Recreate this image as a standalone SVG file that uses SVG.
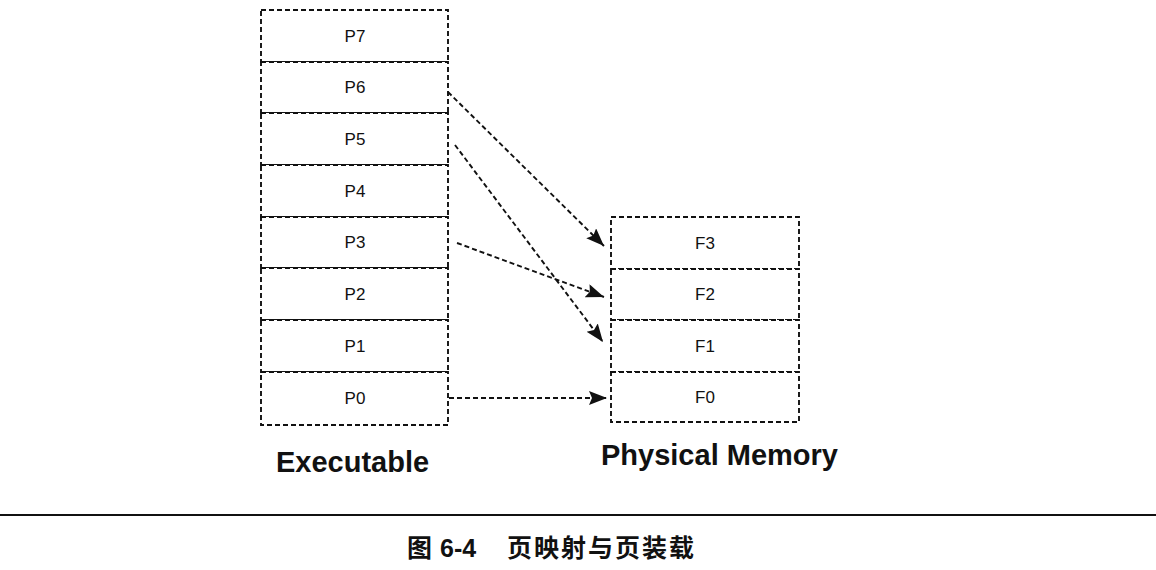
<svg xmlns="http://www.w3.org/2000/svg" width="1156" height="570" viewBox="0 0 1156 570">
<style>
.cell{fill:#fff;stroke:#111;stroke-width:1.9;stroke-dasharray:5 3}
.lbl{font-family:"Liberation Sans",Arial,sans-serif;font-size:17px;fill:#111;text-anchor:middle}
.title{font-family:"Liberation Sans",Arial,sans-serif;font-size:29px;font-weight:bold;fill:#111}
.conn{fill:none;stroke:#111;stroke-width:1.9;stroke-dasharray:5 3}
.cap{font-family:"Liberation Sans","Noto Sans CJK SC",sans-serif;font-size:25px;font-weight:bold;fill:#111}
</style>
<defs>
<marker id="arr" markerUnits="userSpaceOnUse" markerWidth="20" markerHeight="16" refX="18" refY="7" orient="auto">
<path d="M0,0 L18,7 L0,14 L3,7 z" fill="#111"/>
</marker>
</defs>
<rect width="1156" height="570" fill="#fff"/>
<g id="exec">
<g id="P7"><rect class="cell" x="261" y="10" width="187" height="52"/><text class="lbl" x="355" y="42">P7</text></g>
<g id="P6"><rect class="cell" x="261" y="62" width="187" height="51"/><text class="lbl" x="355" y="93">P6</text></g>
<g id="P5"><rect class="cell" x="261" y="113" width="187" height="52"/><text class="lbl" x="355" y="145">P5</text></g>
<g id="P4"><rect class="cell" x="261" y="165" width="187" height="52"/><text class="lbl" x="355" y="197">P4</text></g>
<g id="P3"><rect class="cell" x="261" y="217" width="187" height="51"/><text class="lbl" x="355" y="248">P3</text></g>
<g id="P2"><rect class="cell" x="261" y="268" width="187" height="52"/><text class="lbl" x="355" y="300">P2</text></g>
<g id="P1"><rect class="cell" x="261" y="320" width="187" height="52"/><text class="lbl" x="355" y="352">P1</text></g>
<g id="P0"><rect class="cell" x="261" y="372" width="187" height="53"/><text class="lbl" x="355" y="404">P0</text></g>
</g>
<g id="mem">
<g id="F3"><rect class="cell" x="611" y="217" width="188" height="52"/><text class="lbl" x="705" y="249">F3</text></g>
<g id="F2"><rect class="cell" x="611" y="269" width="188" height="51"/><text class="lbl" x="705" y="300">F2</text></g>
<g id="F1"><rect class="cell" x="611" y="320" width="188" height="52"/><text class="lbl" x="705" y="352">F1</text></g>
<g id="F0"><rect class="cell" x="611" y="372" width="188" height="50"/><text class="lbl" x="705" y="403">F0</text></g>
</g>
<g id="connectors">
<line class="conn" x1="448" y1="92" x2="604" y2="246" marker-end="url(#arr)"/>
<line class="conn" x1="455" y1="145" x2="603" y2="342" marker-end="url(#arr)"/>
<line class="conn" x1="457" y1="243" x2="604" y2="297" marker-end="url(#arr)"/>
<line class="conn" x1="449" y1="398" x2="607" y2="398" marker-end="url(#arr)"/>
</g>
<g id="labels">
<text class="title" x="276" y="472">Executable</text>
<text class="title" x="601" y="465">Physical Memory</text>
</g>
<line x1="0" y1="515" x2="1156" y2="515" stroke="#111" stroke-width="2"/>
<g id="caption">
<text class="cap" x="407" y="557">图</text>
<text class="cap" x="440" y="557">6-4</text>
<text class="cap" x="507" y="557" letter-spacing="2">页映射与页装载</text>
</g>
</svg>
